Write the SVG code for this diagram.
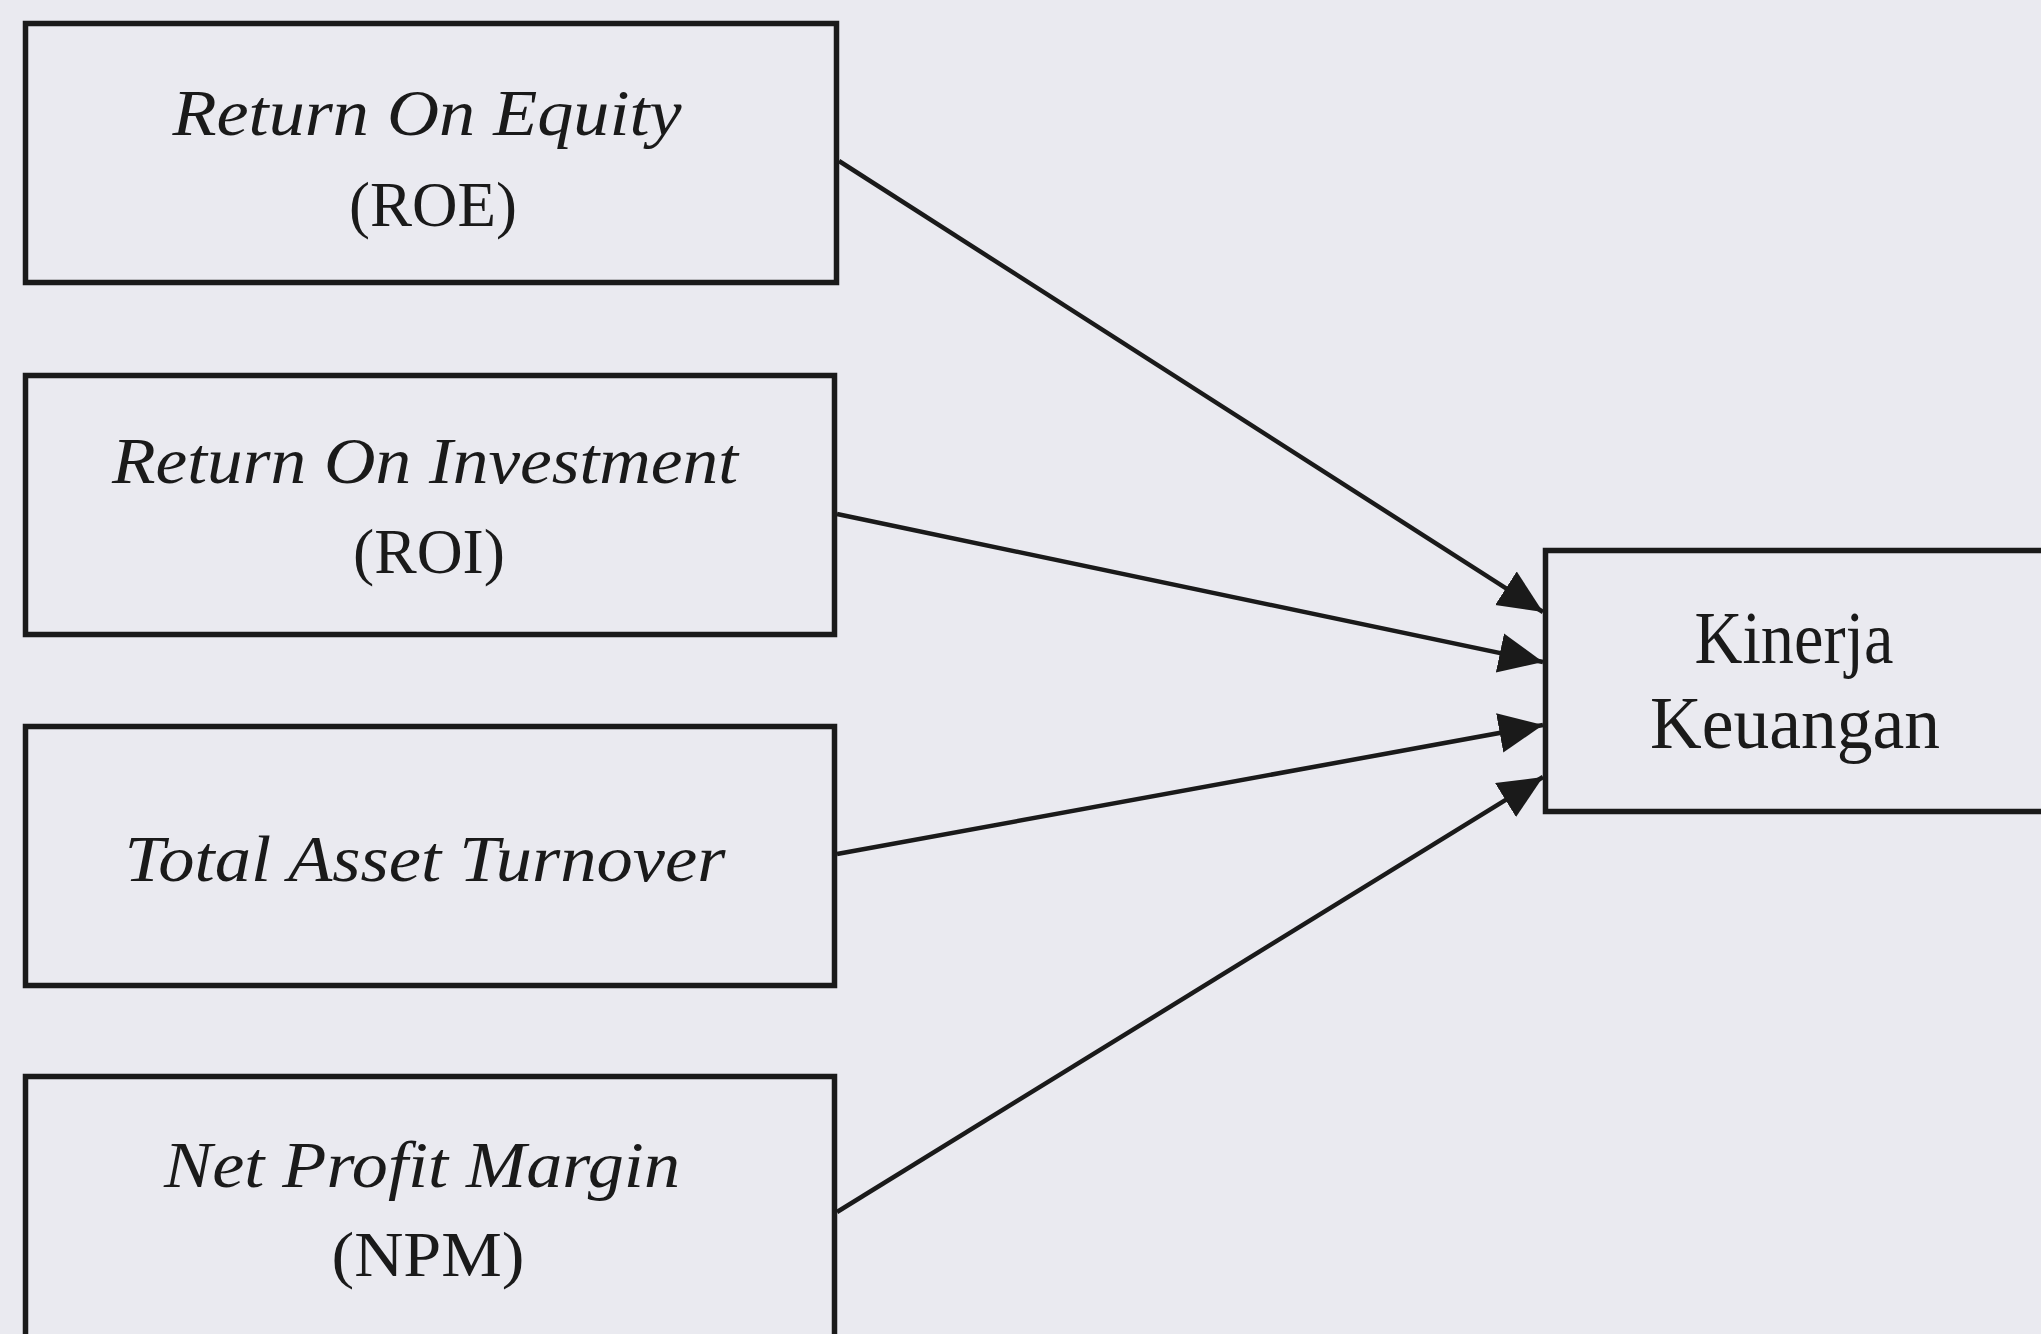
<svg xmlns="http://www.w3.org/2000/svg" width="2041" height="1334" viewBox="0 0 2041 1334">
<style>
.bg{fill:#eaeaf0}
.box{fill:#eaeaf0;stroke:#1a1a1a;stroke-width:5.5}
.it{font-family:"Liberation Serif","Times New Roman",serif;font-style:italic;font-size:66px;fill:#1a1a1a;text-anchor:middle}
.rg{font-family:"Liberation Serif","Times New Roman",serif;font-size:64px;fill:#1a1a1a;text-anchor:middle}
.kr{font-family:"Liberation Serif","Times New Roman",serif;font-size:73px;fill:#1a1a1a;text-anchor:middle}
.ln{stroke:#1a1a1a;stroke-width:4.5;fill:none;marker-end:url(#ah)}
</style>
<defs>
<marker id="ah" markerUnits="userSpaceOnUse" markerWidth="48" markerHeight="42" refX="44" refY="20" orient="auto">
<path d="M0,0 L44,20 L0,40 z" fill="#1a1a1a"/>
</marker>
</defs>
<rect class="bg" x="0" y="0" width="2041" height="1334"/>
<g id="roe">
<rect class="box" x="25.5" y="23.5" width="811" height="259"/>
<text class="it" x="427" y="135" textLength="509" lengthAdjust="spacingAndGlyphs">Return On Equity</text>
<text class="rg" x="433" y="226" textLength="168" lengthAdjust="spacingAndGlyphs">(ROE)</text>
</g>
<g id="roi">
<rect class="box" x="25.5" y="375.5" width="809" height="259"/>
<text class="it" x="425" y="483" textLength="626" lengthAdjust="spacingAndGlyphs">Return On Investment</text>
<text class="rg" x="429" y="573" textLength="152" lengthAdjust="spacingAndGlyphs">(ROI)</text>
</g>
<g id="tat">
<rect class="box" x="25.5" y="726.5" width="809" height="259"/>
<text class="it" x="425" y="881" textLength="601" lengthAdjust="spacingAndGlyphs">Total Asset Turnover</text>
</g>
<g id="npm">
<rect class="box" x="25.5" y="1076.5" width="809" height="300"/>
<text class="it" x="422" y="1187" textLength="516" lengthAdjust="spacingAndGlyphs">Net Profit Margin</text>
<text class="rg" x="428" y="1276" textLength="193" lengthAdjust="spacingAndGlyphs">(NPM)</text>
</g>
<g id="kinerja">
<rect class="box" x="1545.5" y="550.5" width="520" height="261"/>
<text class="kr" x="1794" y="663" textLength="199" lengthAdjust="spacingAndGlyphs">Kinerja</text>
<text class="kr" x="1795" y="748" textLength="290" lengthAdjust="spacingAndGlyphs">Keuangan</text>
</g>
<g id="connectors">
<line class="ln" x1="839" y1="161" x2="1543" y2="612"/>
<line class="ln" x1="837" y1="514" x2="1543" y2="662"/>
<line class="ln" x1="837" y1="854" x2="1543" y2="725"/>
<line class="ln" x1="837" y1="1212" x2="1543" y2="777"/>
</g>
</svg>
